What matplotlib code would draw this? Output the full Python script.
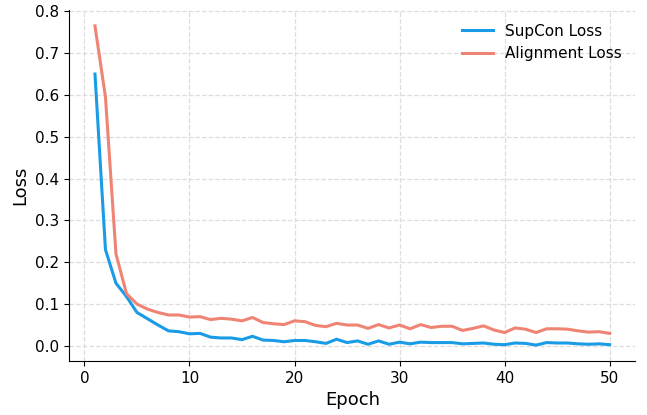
import matplotlib
matplotlib.use('Agg')
import matplotlib.pyplot as plt

epochs = list(range(1, 51))

supcon_loss = [0.650, 0.230, 0.150, 0.118, 0.080, 0.065, 0.050, 0.036, 0.034, 0.029,
               0.030, 0.021, 0.019, 0.019, 0.015, 0.023, 0.014, 0.013, 0.010, 0.013,
               0.013, 0.010, 0.006, 0.016, 0.008, 0.012, 0.004, 0.012, 0.004, 0.009,
               0.005, 0.009, 0.008, 0.008, 0.008, 0.005, 0.006, 0.007, 0.004, 0.003,
               0.007, 0.006, 0.002, 0.008, 0.007, 0.007, 0.005, 0.004, 0.005, 0.003]

alignment_loss = [0.765, 0.595, 0.220, 0.125, 0.100, 0.088, 0.080, 0.074, 0.074, 0.069,
                  0.070, 0.063, 0.066, 0.064, 0.060, 0.068, 0.056, 0.053, 0.051, 0.060,
                  0.058, 0.049, 0.046, 0.054, 0.050, 0.050, 0.042, 0.051, 0.043, 0.050,
                  0.041, 0.051, 0.044, 0.047, 0.047, 0.037, 0.042, 0.048, 0.038, 0.032,
                  0.043, 0.040, 0.032, 0.041, 0.041, 0.040, 0.036, 0.033, 0.034, 0.030]

fig, ax = plt.subplots(figsize=(6.47, 4.15), dpi=100)
ax.plot(epochs, supcon_loss, color='#1a9be6', linewidth=2.2, label='SupCon Loss')
ax.plot(epochs, alignment_loss, color='#f08474', linewidth=2.2, label='Alignment Loss')

ax.set_xlabel('Epoch', fontsize=13)
ax.set_ylabel('Loss', fontsize=13)
ax.tick_params(labelsize=11)
ax.grid(True, linestyle='--', color='#dddddd', linewidth=0.9)
ax.spines['top'].set_visible(False)
ax.spines['right'].set_visible(False)
ax.legend(frameon=False, fontsize=11, loc='upper right')

plt.subplots_adjust(left=0.107, right=0.982, top=0.976, bottom=0.13)
plt.savefig('out.png')
